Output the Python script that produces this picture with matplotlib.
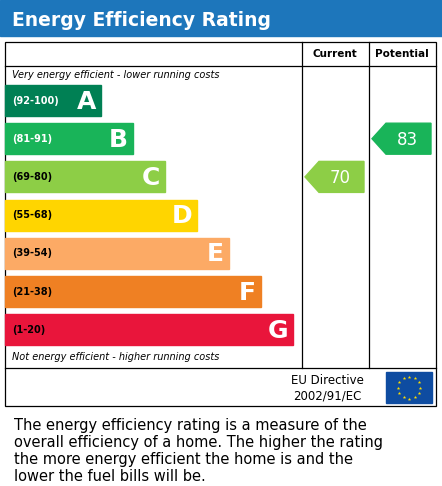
import matplotlib.pyplot as plt
from matplotlib.patches import Rectangle, Polygon
import numpy as np

letters = ['A', 'B', 'C', 'D', 'E', 'F', 'G']
ranges = ['(92-100)', '(81-91)', '(69-80)', '(55-68)', '(39-54)', '(21-38)', '(1-20)']
colors = ['#008054', '#19b459', '#8dce46', '#ffd500', '#fcaa65', '#ef8023', '#e9153b']
lows = [92, 81, 69, 55, 39, 21, 1]
current = 70
potential = 83

fig = plt.figure(figsize=(4.42, 4.86), dpi=100)
ax = fig.add_axes([0, 0, 1, 1])
ax.set_xlim(0, 442)
ax.set_ylim(486, 0)
ax.axis('off')


def band_of(v):
    for i, lo in enumerate(lows):
        if v >= lo:
            return i
    return len(lows) - 1


# title bar
ax.add_patch(Rectangle((0, 0), 442, 36, color='#1d76bb'))
ax.text(12, 20, 'Energy Efficiency Rating', color='white', fontsize=13.5,
        fontweight='bold', va='center')

# table frame
lw = 0.9
ax.add_patch(Rectangle((5, 42), 431, 364, fill=False, edgecolor='black', lw=lw))
ax.plot([5, 436], [66, 66], color='black', lw=lw)
ax.plot([5, 436], [368, 368], color='black', lw=lw)
ax.plot([302, 302], [42, 368], color='black', lw=lw)
ax.plot([369, 369], [42, 368], color='black', lw=lw)
ax.text(335, 54, 'Current', fontsize=7.5, fontweight='bold', ha='center', va='center')
ax.text(402, 54, 'Potential', fontsize=7.5, fontweight='bold', ha='center', va='center')

ax.text(12, 75, 'Very energy efficient - lower running costs', fontsize=7,
        style='italic', va='center')
ax.text(12, 357, 'Not energy efficient - higher running costs', fontsize=7,
        style='italic', va='center')

top0, step, h = 85, 38.2, 31
for i, (let, rng, col) in enumerate(zip(letters, ranges, colors)):
    y = top0 + i * step
    right = 101 + i * 32
    ax.add_patch(Rectangle((5, y), right - 5, h, color=col))
    tc = 'black' if let in 'CDE' else 'white'
    ax.text(12, y + h / 2, rng, fontsize=7, fontweight='bold', color='black' if let in 'CDEFG' else 'white',
            va='center')
    ax.text(right - 5, y + h / 2 + 1, let, fontsize=18, fontweight='bold', color='white',
            ha='right', va='center', path_effects=[])


def arrow(x0, x1, v):
    i = band_of(v)
    y = top0 + i * step
    pts = [(x0, y + h / 2), (x0 + 14, y), (x1, y), (x1, y + h), (x0 + 14, y + h)]
    ax.add_patch(Polygon(pts, closed=True, color=colors[i]))
    ax.text((x0 + x1) / 2 + 6, y + h / 2 + 1, str(v), fontsize=12, color='white',
            ha='center', va='center')


arrow(305, 364, current)
arrow(372, 431, potential)

# EU directive
ax.text(327, 380, 'EU Directive', fontsize=8.5, ha='center', va='center')
ax.text(327, 396, '2002/91/EC', fontsize=8.5, ha='center', va='center')
ax.add_patch(Rectangle((386, 372), 46, 31, color='#0e4ca1'))
ang = np.linspace(0, 2 * np.pi, 13)[:-1]
ax.scatter(409 + 11 * np.cos(ang), 387.5 + 11 * np.sin(ang), marker='*', s=7,
           color='#ffdd00', lw=0)

lines = ['The energy efficiency rating is a measure of the',
         'overall efficiency of a home. The higher the rating',
         'the more energy efficient the home is and the',
         'lower the fuel bills will be.']
for k, t in enumerate(lines):
    ax.text(14, 425 + k * 17, t, fontsize=10.5, va='center')

fig.savefig('out.png', dpi=100)
